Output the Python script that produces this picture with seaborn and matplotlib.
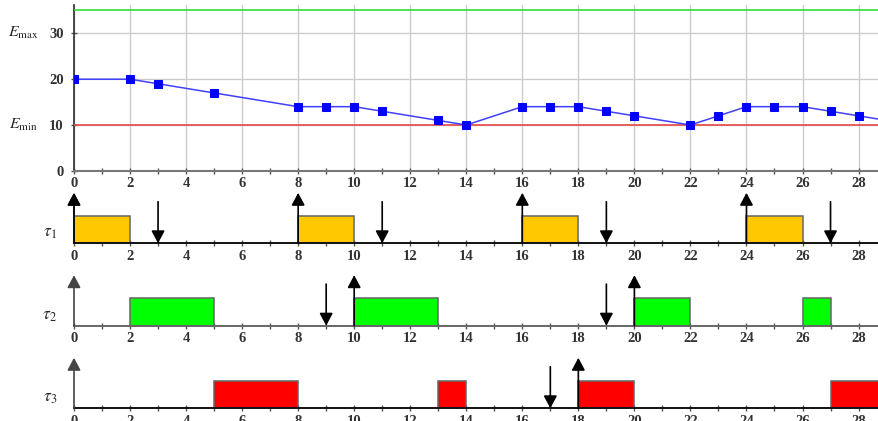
import matplotlib
matplotlib.use("Agg")
import matplotlib.pyplot as plt
from matplotlib.ticker import MultipleLocator
import seaborn as sns
import pandas as pd

# ---- data ----
time_points = [0, 2, 3, 5, 8, 9, 10, 11, 13, 14, 16, 17, 18, 19, 20, 22, 23, 24, 25, 26, 27, 28, 29]
energy = [20, 20, 19, 17, 14, 14, 14, 13, 11, 10, 14, 14, 14, 13, 12, 10, 12, 14, 14, 14, 13, 12, 11]
e_max = 35
e_min = 10
e_ticks = [0, 10, 20, 30]

task_names = [r"$\tau_1$", r"$\tau_2$", r"$\tau_3$"]
task_colors = ["#FFC800", "#00FF00", "#FF0000"]
task_starts = [[0, 8, 16, 24], [2, 10, 20, 26], [5, 13, 18, 27]]
task_durations = [[2, 2, 2, 2], [3, 3, 2, 1], [3, 1, 2, 3]]
task_releases = [[0, 8, 16, 24], [10, 20], [18]]
task_deadlines = [[3, 11, 19, 27], [9, 19], [17]]

X_MAX = 28.73

sns.set_theme(style="white")
plt.rcParams["font.family"] = ["Liberation Serif", "DejaVu Serif"]
plt.rcParams["mathtext.fontset"] = "stix"

fig = plt.figure(figsize=(8.79, 4.21), dpi=100)
W, H = 879, 421
left = 74 / W
width = 1 - left

tick_kw = dict(labelsize=10.5, labelcolor="#333333", direction="inout", length=5, width=1, color="#555555")

def style_xaxis(ax, pad):
    ax.xaxis.set_major_locator(MultipleLocator(2))
    ax.xaxis.set_minor_locator(MultipleLocator(1))
    ax.tick_params(axis="x", which="both", bottom=True, pad=pad, **tick_kw)
    for lab in ax.get_xticklabels():
        lab.set_fontweight("bold")

# ---- energy panel ----
ax = fig.add_axes([left, 1 - 170.8 / H, width, (170.8 - 5) / H])
df = pd.DataFrame({"t": time_points, "E": energy})
sns.lineplot(data=df, x="t", y="E", ax=ax, color="#4040FF", linewidth=1.1,
             marker="s", markersize=6, markerfacecolor="#0000FF",
             markeredgecolor="#0000FF", zorder=5)
ax.axhline(e_max, color="#22DD22", linewidth=1.1, zorder=4)
ax.axhline(e_min, color="#E84848", linewidth=1.2, zorder=4)
ax.set_xlim(0, X_MAX)
ax.set_ylim(0, 36.2)
ax.set_yticks(e_ticks)
ax.set_xlabel("")
ax.set_ylabel("")
style_xaxis(ax, pad=2)
ax.tick_params(axis="y", left=True, pad=5, **tick_kw)
for lab in ax.get_xticklabels() + ax.get_yticklabels():
    lab.set_fontweight("bold")
ax.grid(True, which="major", color="#CCCCCC", linewidth=1)
ax.set_axisbelow(True)
for s in ["top", "right"]:
    ax.spines[s].set_visible(False)
ax.spines["left"].set_color("#333333")
ax.spines["bottom"].set_color("#777777")
ax.spines["bottom"].set_linewidth(1.5)
ax.text(-0.063, 30, r"$E_{\mathrm{max}}$", transform=ax.get_yaxis_transform(),
        ha="center", va="center", fontsize=11.5)
ax.text(-0.063, 10, r"$E_{\mathrm{min}}$", transform=ax.get_yaxis_transform(),
        ha="center", va="center", fontsize=11.5)

# ---- task rows ----
baselines = [243.3, 325.7, 408.3]
spine_cols = ["#111111", "#666666", "#111111"]
row_h = 56
bar_h = 27.5 / row_h
rel_top = 50.5 / row_h
dl_top = 41.6 / row_h
head = "-|>,head_length=0.75,head_width=0.4"

for i, base in enumerate(baselines):
    a = fig.add_axes([left, 1 - base / H, width, row_h / H])
    a.set_xlim(0, X_MAX)
    a.set_ylim(0, 1)
    a.bar(task_starts[i], [bar_h] * len(task_starts[i]), width=task_durations[i],
          bottom=0, align="edge", color=task_colors[i], edgecolor="#666666",
          linewidth=1.1, zorder=2)
    # y axis arrow
    a.annotate("", xy=(0, rel_top), xytext=(0, 0),
               arrowprops=dict(arrowstyle=head, color="#444444", lw=1.2,
                               shrinkA=0, shrinkB=0, mutation_scale=10), zorder=3)
    for r in task_releases[i]:
        a.annotate("", xy=(r, rel_top), xytext=(r, 0),
                   arrowprops=dict(arrowstyle=head, color="black", lw=1.2,
                                   shrinkA=0, shrinkB=0, mutation_scale=10), zorder=4)
    for d in task_deadlines[i]:
        a.annotate("", xy=(d, 0), xytext=(d, dl_top),
                   arrowprops=dict(arrowstyle=head, color="black", lw=1.2,
                                   shrinkA=0, shrinkB=0, mutation_scale=10), zorder=4)
    a.set_yticks([])
    style_xaxis(a, pad=2)
    for s in ["top", "right", "left"]:
        a.spines[s].set_visible(False)
    a.spines["bottom"].set_color(spine_cols[i])
    a.spines["bottom"].set_linewidth(1.4)
    a.patch.set_alpha(0)
    a.text(-0.03, 10 / row_h, task_names[i], transform=a.transAxes,
           ha="center", va="center", fontsize=12.5)

fig.savefig("out.png", dpi=100)
